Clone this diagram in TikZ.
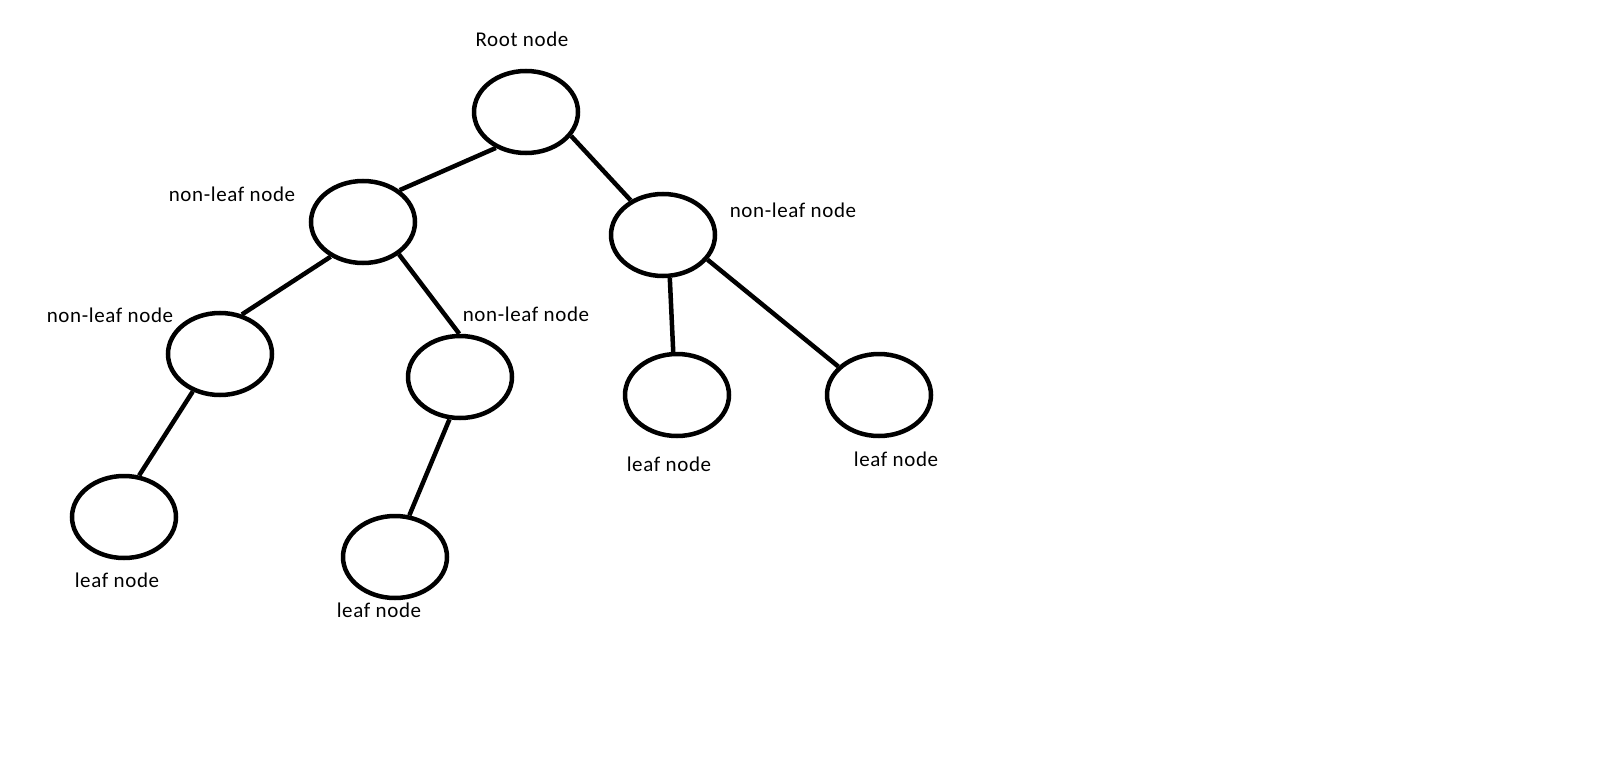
\documentclass[tikz,border=0pt]{standalone}
\usepackage{fontspec}
\setmainfont{Carlito}[LetterSpace=3]
\usetikzlibrary{shapes.geometric}
\begin{document}
\begin{tikzpicture}[x=1pt,y=-1pt,
  tnode/.style={draw=black,line width=4.5pt,ellipse,inner sep=0pt,minimum width=104pt,minimum height=82pt},
  lbl/.style={anchor=base,inner sep=0pt,font=\fontsize{21pt}{25pt}\selectfont,text=black},
  edge/.style={line width=4.5pt,draw=black}]
\useasboundingbox[fill=white] (0,0) rectangle (1600,762);
\node[tnode] (root) at (526,112) {};
\node[tnode] (nl) at (363,222) {};
\node[tnode] (nr) at (663,235) {};
\node[tnode] (nll) at (220,354) {};
\node[tnode] (nlr) at (460,377) {};
\node[tnode] (lf1) at (124,517) {};
\node[tnode] (lf2) at (395,557) {};
\node[tnode] (lf3) at (677,395) {};
\node[tnode] (lf4) at (879,395) {};
\draw[edge] (root.230) -- (nl.41);
\draw[edge] (root.332) -- (nr.133);
\draw[edge] (nl.227) -- (nll.61);
\draw[edge] (nl.318) -- (nlr.91);
\draw[edge] (nll.234) -- (lf1.70);
\draw[edge] (nlr.256) -- (lf2.71);
\draw[edge] (nr.279) -- (lf3.95);
\draw[edge] (nr.331) -- (lf4.145);
\node[lbl] (t0) at (522,47) {Root node};
\node[lbl] (t1) at (232,202) {non-leaf node};
\node[lbl] (t2) at (793,218) {non-leaf node};
\node[lbl] (t3) at (110,322) {non-leaf node};
\node[lbl] (t4) at (526,321) {non-leaf node};
\node[lbl] (t5) at (117,587) {leaf node};
\node[lbl] (t6) at (379,617) {leaf node};
\node[lbl] (t7) at (669,471) {leaf node};
\node[lbl] (t8) at (896,466) {leaf node};
\end{tikzpicture}
\end{document}
